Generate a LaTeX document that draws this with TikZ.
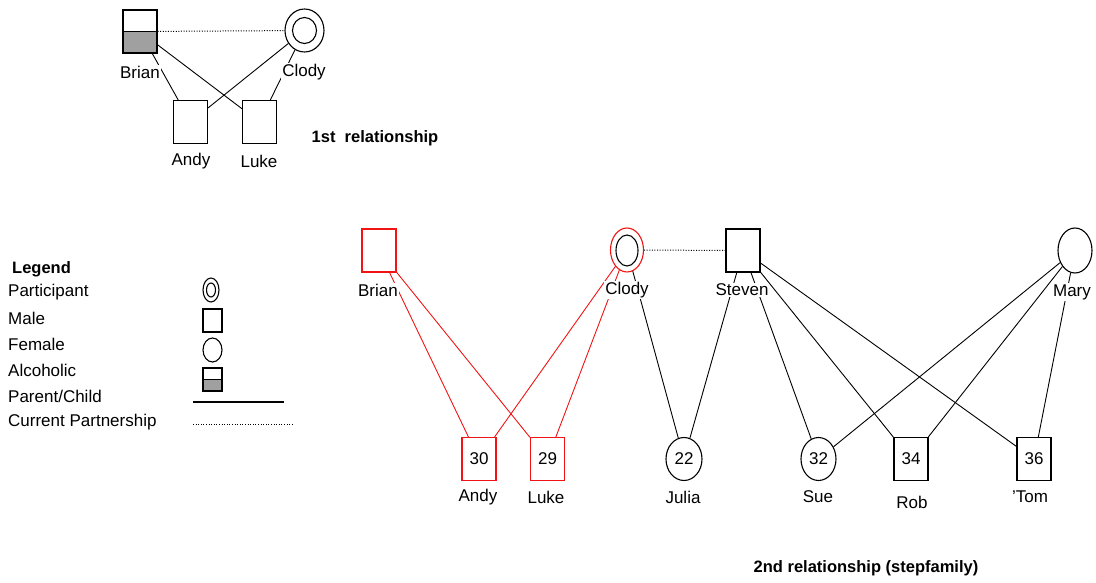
\documentclass[tikz,border=0pt]{standalone}
\usepackage{fontspec}
\setmainfont{Liberation Sans}
\usetikzlibrary{shapes.geometric}
\definecolor{alcgray}{RGB}{160,160,160}
\definecolor{gred}{RGB}{240,20,20}
\tikzset{
  lbl/.style={font=\fontsize{17}{19}\selectfont, fill=white, inner sep=1pt},
  ttl/.style={font=\fontsize{16.5}{19}\selectfont\bfseries, inner sep=0pt},
  sq/.style={draw, line width=1.1pt, minimum width=34, minimum height=43, inner sep=0pt, font=\fontsize{17}{19}\selectfont},
  fem/.style={ellipse, draw, line width=1.1pt, minimum width=35, minimum height=43, inner sep=0pt, font=\fontsize{17}{19}\selectfont},
  alc/.style={path picture={\fill[alcgray] (path picture bounding box.west) rectangle (path picture bounding box.south east);
     \draw[line width=1.1pt] (path picture bounding box.west) -- (path picture bounding box.east);}},
  link/.style={line width=0.9pt},
  partner/.style={line width=1pt, dash pattern=on 1pt off 1.6pt},
  legtxt/.style={font=\fontsize{17}{19}\selectfont, anchor=west, inner sep=0pt},
}
\begin{document}
\begin{tikzpicture}[x=1pt,y=-1pt]
\useasboundingbox (0,0) rectangle (1096,583);

% ---------- 1st relationship ----------
\node[sq, alc] (B1) at (140,31.5) {};
\node[fem, minimum width=39, minimum height=43] (C1) at (304.5,30.5) {};
\node[fem, minimum width=24, minimum height=26] (C1i) at (304.5,30.5) {};
\node[sq] (A1) at (190.5,122) {};
\node[sq] (L1) at (259.5,122) {};

\draw[partner] (B1) -- (C1);
\draw[link] (B1) -- (A1);
\draw[link] (B1) -- (L1);
\draw[link] (C1) -- (A1);
\draw[link] (C1) -- (L1);

\node[lbl] (B1t) at (140,72) {Brian};
\node[lbl] (C1t) at (304,72) {Clody};
\node[lbl] (A1t) at (191,161) {Andy};
\node[lbl] (L1t) at (259,161) {Luke};
\node[ttl] (T1) at (375,138) {1st\ \ relationship};

% ---------- Legend ----------
\node[ttl, anchor=west] (LG) at (12,269) {Legend};
\node[legtxt] (LP) at (8,292) {Participant};
\node[legtxt] (LM) at (8,318) {Male};
\node[legtxt] (LF) at (8,344) {Female};
\node[legtxt] (LA) at (8,370) {Alcoholic};
\node[legtxt] (LC) at (8,396) {Parent/Child};
\node[legtxt] (LCP) at (8,422) {Current Partnership};

\node[fem, minimum width=16, minimum height=24] (SP) at (211,290) {};
\node[fem, minimum width=9, minimum height=14] (SPi) at (211,290) {};
\node[sq, minimum width=19, minimum height=23] (SM) at (212.5,320.5) {};
\node[fem, minimum width=19, minimum height=24] (SF) at (212.5,350) {};
\node[sq, alc, minimum width=19, minimum height=23] (SA) at (212.5,379.5) {};
\coordinate (PC1) at (193,402);
\coordinate (PC2) at (284,402);
\draw[line width=1.3pt] (PC1) -- (PC2);
\coordinate (CP1) at (193,424);
\coordinate (CP2) at (294,424);
\draw[partner] (CP1) -- (CP2);

% ---------- 2nd relationship ----------
\node[sq, draw=gred] (B2) at (379,250.5) {};
\node[fem, draw=gred, minimum width=33, minimum height=44] (C2) at (627,250) {};
\node[fem, minimum width=22, minimum height=31] (C2i) at (627,250.5) {};
\node[sq] (S2) at (743,250.5) {};
\node[fem, minimum width=34, minimum height=45] (M2) at (1075,250.5) {};

\node[sq, draw=gred] (A2) at (479,459) {30};
\node[sq, draw=gred] (L2) at (547.5,459) {29};
\node[fem, minimum width=36] (J2) at (684,459) {22};
\node[fem] (U2) at (818.5,459) {32};
\node[sq] (R2) at (911,459) {34};
\node[sq] (T2) at (1034,459) {36};

\draw[partner] (C2) -- (S2);
\begin{scope}[link, gred]
\draw (B2) -- (A2);
\draw (B2) -- (L2);
\draw (C2) -- (A2);
\draw (C2) -- (L2);
\end{scope}
\draw[link] (C2) -- (J2);
\draw[link] (S2) -- (J2);
\draw[link] (S2) -- (U2);
\draw[link] (S2) -- (R2);
\draw[link] (S2) -- (T2);
\draw[link] (M2) -- (U2);
\draw[link] (M2) -- (R2);
\draw[link] (M2) -- (T2);

\node[lbl] (B2t) at (378,290) {Brian};
\node[lbl] (C2t) at (627,290) {Clody};
\node[lbl] (S2t) at (742,290) {Steven};
\node[lbl] (M2t) at (1072,292) {Mary};
\node[lbl] (A2t) at (478,497) {Andy};
\node[lbl] (L2t) at (546,497) {Luke};
\node[lbl] (J2t) at (683,497) {Julia};
\node[lbl] (U2t) at (818,497) {Sue};
\node[lbl] (R2t) at (912,502) {Rob};
\node[lbl] (T2t) at (1030,497) {'Tom};
\node[ttl] (T2x) at (866,568) {2nd relationship (stepfamily)};
\end{tikzpicture}
\end{document}
